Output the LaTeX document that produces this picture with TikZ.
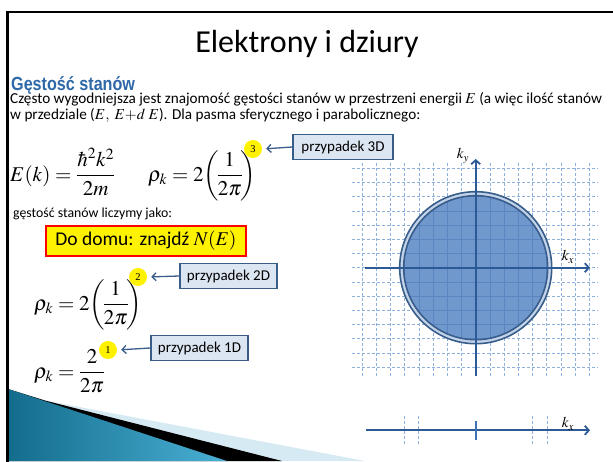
\documentclass[tikz,border=0pt]{standalone}
\usepackage{amsmath}
\usepackage{mathptmx}
\usepackage[no-math]{fontspec}
\setmainfont{Carlito}
\newfontfamily\headfont{Liberation Sans}[FakeStretch=0.85]
\newfontfamily\numfont{Liberation Serif}
\usetikzlibrary{arrows.meta}
\definecolor{headblue}{HTML}{2E68A8}
\definecolor{boxfill}{HTML}{DCE6F2}
\definecolor{boxline}{HTML}{385D8A}
\definecolor{gridc}{HTML}{8EB0DC}
\definecolor{axisc}{HTML}{2C5A96}
\definecolor{diskc}{HTML}{7098CD}
\definecolor{diskgrid}{HTML}{5A85C0}
\definecolor{ringc}{HTML}{C3D4EA}
\definecolor{tealA}{HTML}{136C8C}
\definecolor{tealB}{HTML}{4AB0D4}
\definecolor{paleblue}{HTML}{D5EAF2}
\definecolor{tickc}{HTML}{3E72B4}
\tikzset{
  callbox/.style={draw=boxline, line width=1.4pt, fill=boxfill, minimum height=25pt, inner sep=2pt, font=\fontsize{15}{17}\selectfont},
  bubble/.style={circle, fill=yellow, minimum size=18pt, inner sep=0pt, font=\numfont\fontsize{10.5}{11}\selectfont},
  callarr/.style={draw=boxline, line width=1.3pt, -{Straight Barb[length=4pt,width=8pt]}, shorten >=4pt},
  gridline/.style={draw=gridc, line width=0.8pt, dash pattern=on 3pt off 2pt},
  axisline/.style={draw=axisc, line width=1.8pt, -{Straight Barb[length=4pt,width=9pt]}},
  eq/.style={inner sep=0pt, anchor=base west, font=\fontsize{21}{25}\selectfont},
  txt/.style={inner sep=0pt, anchor=base west}
}
\begin{document}
\begin{tikzpicture}[x=1pt,y=-1pt]
\useasboundingbox (0,0) rectangle (613,461);
\fill[white] (0,0) rectangle (613,461);
% bottom-left wedge
\fill[paleblue] (8,389) -- (45,400.5) -- (365,461) -- (8,461) -- cycle;
\fill[black] (8,389) -- (45,400.5) -- (282,461) -- (8,461) -- cycle;
\shade[left color=tealA, right color=tealB] (8,389) -- (227,461) -- (8,461) -- cycle;
% frame
\draw[black, line width=2.6pt] (7,12) -- (620,12);
\draw[black, line width=3pt] (7,11) -- (7,462);
% title and text
\node[txt, anchor=base] (title) at (307,52) {\fontsize{32}{36}\selectfont Elektrony i dziury};
\node[txt] (head) at (11,90.5) {\headfont\bfseries\color{headblue}\fontsize{19}{22}\selectfont Gęstość stanów};
\node[txt] (body1) at (10,103.5) {\fontsize{15.2}{18}\selectfont Często wygodniejsza jest znajomość gęstości stanów w przestrzeni energii $E$ (a więc ilość stanów};
\node[txt] (body2) at (10,119.5) {\fontsize{15.2}{18}\selectfont w przedziale ($E,\ E{+}d\ E$). Dla pasma sferycznego i parabolicznego:};
% equations
\node[eq] (eqE) at (10,181) {$E(k)=\dfrac{\hbar^2k^2}{2m}$};
\node[eq] (eqR3) at (148,181) {$\rho_k=2\!\left(\!\dfrac{1}{2\pi}\!\right)$};
\node[bubble] (b3) at (253,149) {3};
\node[callbox, minimum width=100pt] (box3) at (343,147) {przypadek 3D};
\draw[callarr] (box3.west) -- (b3.east);
\node[txt] (liczymy) at (13,217) {\fontsize{13.8}{16}\selectfont gęstość stanów liczymy jako:};
\node[draw=red, line width=1.8pt, fill=yellow, minimum width=200pt, minimum height=30pt, inner sep=0pt, font=\fontsize{19.5}{22}\selectfont] (dom) at (146,241) {Do domu: znajdź $N(E)$};
\node[eq] (eqR2) at (34,310) {$\rho_k=2\!\left(\!\dfrac{1}{2\pi}\!\right)$};
\node[bubble] (b2) at (138,277) {2};
\node[callbox, minimum width=97pt] (box2) at (228.5,276) {przypadek 2D};
\draw[callarr] (box2.west) -- (b2.east);
\node[eq] (eqR1) at (34,378) {$\rho_k=\dfrac{2}{2\pi}$};
\node[bubble] (b1) at (108,350) {1};
\node[callbox, minimum width=97pt] (box1) at (199.5,348) {przypadek 1D};
\draw[callarr] (box1.west) -- (b1.east);
% grid
\foreach \k in {-7,...,7} \draw[gridline] (352,267.7+14.2*\k) -- (598,267.7+14.2*\k);
\foreach \k in {-8,...,8} \draw[gridline] (475.7+14.2*\k,163) -- (475.7+14.2*\k,376);
% Fermi sphere
\fill[ringc] (475.7,267.7) circle (76pt);
\fill[diskc] (475.7,267.7) circle (72pt);
\begin{scope}
\clip (475.7,267.7) circle (72pt);
\foreach \k in {-7,...,7} \draw[diskgrid, line width=0.6pt] (352,267.7+14.2*\k) -- (598,267.7+14.2*\k);
\foreach \k in {-8,...,8} \draw[diskgrid, line width=0.6pt] (475.7+14.2*\k,163) -- (475.7+14.2*\k,376);
\end{scope}
\draw[boxline, line width=1.6pt] (475.7,267.7) circle (76pt);
\draw[boxline, line width=1.6pt] (475.7,267.7) circle (72pt);
% axes
\coordinate (kxs) at (365,267.7);
\coordinate (kxe) at (590,267.7);
\coordinate (kys) at (475.7,376);
\coordinate (kye) at (475.7,159);
\draw[axisline] (kxs) -- (kxe);
\draw[axisline] (kys) -- (kye);
\node[font=\fontsize{15}{17}\selectfont, inner sep=0pt] (lkx) at (568,257) {$k_x$};
\node[font=\fontsize{15}{17}\selectfont, inner sep=0pt] (lky) at (463,156) {$k_y$};
% 1D axis
\foreach \x in {404.3,418.3,532.7,547} \draw[gridline] (\x,416) -- (\x,445);
\coordinate (k1s) at (366,430.3);
\coordinate (k1e) at (590,430.3);
\draw[axisline] (k1s) -- (k1e);
\coordinate (t1a) at (475.7,421);
\coordinate (t1b) at (475.7,440);
\draw[tickc, line width=1.8pt] (t1a) -- (t1b);
\node[font=\fontsize{15}{17}\selectfont, inner sep=0pt] (lk1) at (568,424) {$k_x$};
\end{tikzpicture}
\end{document}
